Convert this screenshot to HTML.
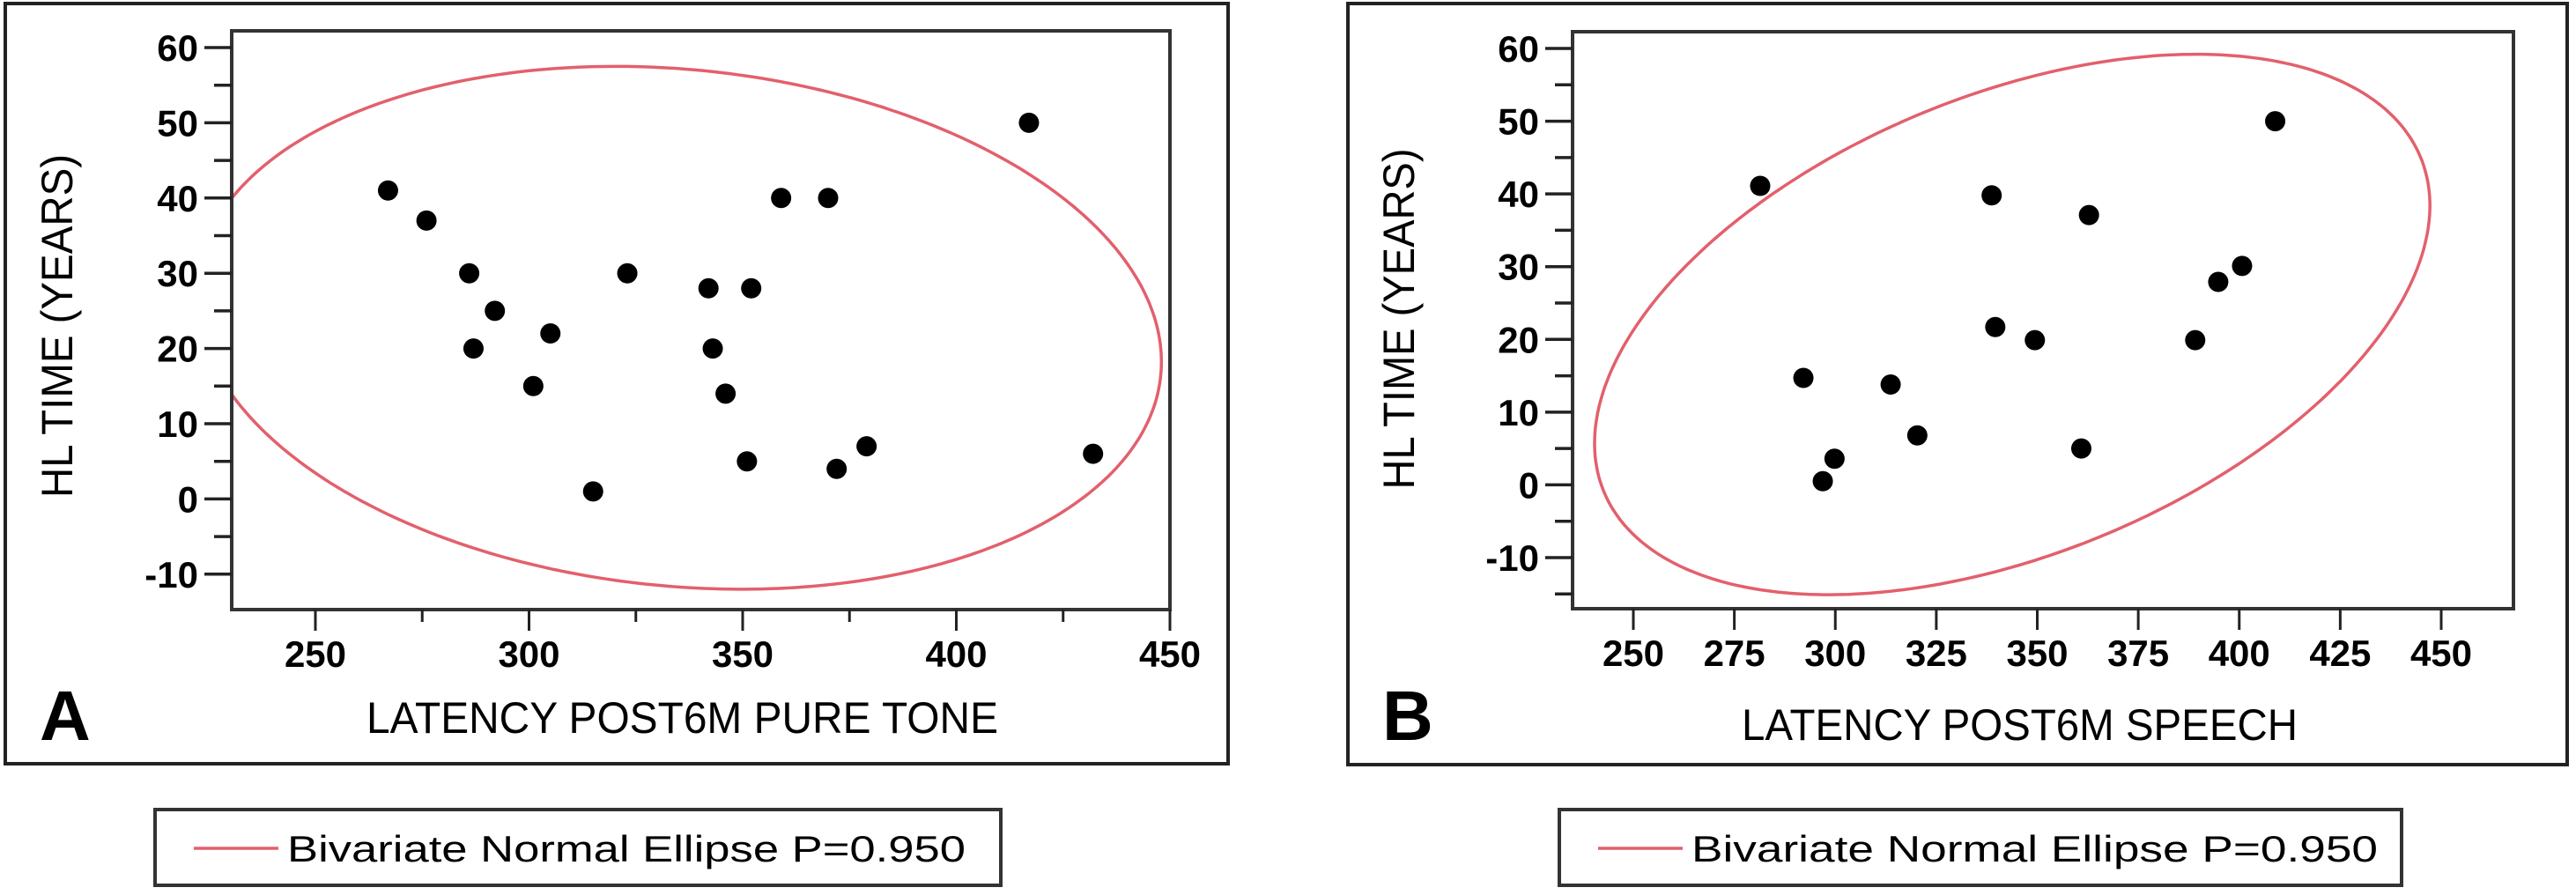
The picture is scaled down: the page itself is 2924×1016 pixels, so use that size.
<!DOCTYPE html>
<html><head><meta charset="utf-8"><style>
html,body{margin:0;padding:0;background:#fff;}
svg{display:block;font-family:"Liberation Sans",Arial,sans-serif;}
</style></head><body>
<svg id="fig" width="2924" height="1016" viewBox="0 0 2924 1016" xmlns="http://www.w3.org/2000/svg">
<rect x="0" y="0" width="2924" height="1016" fill="#fff"/>
<g id="panelA"></g>
<g id="panelB"></g>
</svg>
<script>
// Panel A data
const aLatency = [267,276,286,292,287,305,301,323,315,342,343,346,352,351,359,370,372,379,417,432];
const aYears   = [41,37,30,25,20,22,15,30,1,28,20,14,28,5,40,40,4,7,50,6];
const aEllipse = [335,22.75,113,34.75,-0.13]; // meanX, meanY, halfX, halfY, rho
// Panel B data
const bLatency = [281.4,292.1,296.9,299.8,313.7,320.3,338.7,339.6,349.4,360.9,362.8,389.1,394.8,400.7,408.9];
const bYears   = [41.1,14.7,0.5,3.6,13.8,6.8,39.8,21.7,19.9,5,37.1,19.9,27.9,30.1,50];
const bEllipse = [343.8,22.05,103.4,37.15,0.44];
const yTicks = [60,50,40,30,20,10,0,-10];
const aXTicks = [250,300,350,400,450];
const bXTicks = [250,275,300,325,350,375,400,425,450];

const NS = "http://www.w3.org/2000/svg";
function mk(parent, tag, attrs, text){
  const e = document.createElementNS(NS, tag);
  for (const k in attrs) e.setAttribute(k, attrs[k]);
  if (text !== undefined) e.textContent = text;
  parent.appendChild(e);
  return e;
}

function drawPanel(g, cfg){
  const sx = v => cfg.x0px + (v - cfg.x0v) * cfg.xk;
  const sy = v => cfg.y60px + (60 - v) * cfg.yk;
  const border = mk(g,'rect',{x:cfg.bx,y:4,width:cfg.bw,height:cfg.bh,fill:'none',stroke:'#222','stroke-width':4});
  
  
  const cid = 'clip'+cfg.id;
  const cp = mk(g,'clipPath',{id:cid});
  mk(cp,'rect',{x:cfg.fl,y:cfg.ft,width:cfg.fr-cfg.fl,height:cfg.fb-cfg.ft});
  const [mx,my,hx,hy,rho] = cfg.ell;
  let d='';
  for(let i=0;i<=360;i++){
    const t=i*Math.PI/180;
    const xv=mx+hx*Math.cos(t);
    const yv=my+hy*(rho*Math.cos(t)+Math.sqrt(1-rho*rho)*Math.sin(t));
    d+=(i?'L':'M')+sx(xv).toFixed(1)+' '+sy(yv).toFixed(1);
  }
  const el = mk(g,'path',{d:d+'Z',fill:'none',stroke:'#e2606c','stroke-width':3.5,'clip-path':'url(#'+cid+')'});
  
  
  cfg.xs.forEach((xv,i)=>{
    const c = mk(g,'ellipse',{cx:sx(xv),cy:sy(cfg.ys[i]),rx:11.5,ry:11.5,fill:'#000'});
    
    
  });
  const fr = mk(g,'rect',{x:cfg.fl,y:cfg.ft,width:cfg.fr-cfg.fl,height:cfg.fb-cfg.ft,fill:'none',stroke:'#333','stroke-width':4});
  
  
  yTicks.forEach(v=>{
    const y=sy(v);
    const tk = mk(g,'line',{x1:cfg.fl-31,x2:cfg.fl,y1:y,y2:y,stroke:'#222','stroke-width':3.5});
    
    
    const lb = mk(g,'text',{x:cfg.fl-38,y:y+15,'text-anchor':'end','font-size':42,'font-weight':'bold',fill:'#000'},String(v));
    
    
    const mv=v-5;
    if (sy(mv) < cfg.fb-4){
      const m = mk(g,'line',{x1:cfg.fl-20,x2:cfg.fl,y1:sy(mv),y2:sy(mv),stroke:'#222','stroke-width':3.5});
      
      
    }
  });
  if (sy(55) > cfg.ft){
    const m = mk(g,'line',{x1:cfg.fl-20,x2:cfg.fl,y1:sy(55),y2:sy(55),stroke:'#222','stroke-width':3.5});
    
    
  }
  cfg.xt.forEach((v,i)=>{
    const x=sx(v);
    const tk = mk(g,'line',{x1:x,x2:x,y1:cfg.fb,y2:cfg.fb+24,stroke:'#222','stroke-width':3});
    
    
    const lb = mk(g,'text',{x:x,y:cfg.fb+65,'text-anchor':'middle','font-size':42,'font-weight':'bold',fill:'#000'},String(v));
    
    
    if (cfg.minor && i<cfg.xt.length-1){
      const mxp=sx(v+cfg.minor);
      const m = mk(g,'line',{x1:mxp,x2:mxp,y1:cfg.fb,y2:cfg.fb+14,stroke:'#222','stroke-width':3});
      
      
    }
  });
  const xt = mk(g,'text',{x:cfg.xtx,y:cfg.xty,'font-size':50,fill:'#000',textLength:cfg.xtl,lengthAdjust:'spacingAndGlyphs'},cfg.xtitle);
  
  
  const yt = mk(g,'text',{x:0,y:0,'font-size':50,fill:'#000','text-anchor':'middle',textLength:cfg.ytl,lengthAdjust:'spacingAndGlyphs',transform:'translate('+cfg.ytx+','+cfg.yty+') rotate(-90)'},'HL TIME (YEARS)');
  
  
  const pl = mk(g,'text',{x:cfg.bx+39,y:840,'font-size':80,'font-weight':'bold',fill:'#000'},cfg.letter);
  
  
  const lg = mk(g,'g',{});
  
  
  mk(lg,'rect',{x:cfg.lx,y:919,width:cfg.lw,height:86,fill:'#fff',stroke:'#333','stroke-width':4});
  const ll = mk(lg,'line',{x1:cfg.lx+44,x2:cfg.lx+140,y1:963,y2:963,stroke:'#e2606c','stroke-width':3.5});
  
  
  const lt = mk(lg,'text',{x:cfg.lx+150,y:978,'font-size':42,fill:'#000',textLength:cfg.ltl,lengthAdjust:'spacingAndGlyphs'},'Bivariate Normal Ellipse P=0.950');
  
  
}

drawPanel(document.getElementById('panelA'),{
  id:'A', letter:'A', bx:6, bw:1388, bh:863,
  fl:263, fr:1328, ft:35, fb:692,
  x0v:250, x0px:358, xk:4.85, y60px:54, yk:8.54,
  xs:aLatency, ys:aYears, ell:aEllipse, xt:aXTicks, minor:25,
  xtitle:'LATENCY POST6M PURE TONE', xtx:416, xty:832, xtl:717,
  ytx:82, yty:370, ytl:390,
  lx:176, lw:960, ltl:770
});
drawPanel(document.getElementById('panelB'),{
  id:'B', letter:'B', bx:1530, bw:1384, bh:864,
  fl:1785, fr:2853, ft:36, fb:691,
  x0v:250, x0px:1854, xk:4.585, y60px:55, yk:8.257,
  xs:bLatency, ys:bYears, ell:bEllipse, xt:bXTicks, minor:0,
  xtitle:'LATENCY POST6M SPEECH', xtx:1977, xty:840, xtl:631,
  ytx:1605, yty:362, ytl:387,
  lx:1770, lw:956, ltl:779
});
</script>
</body></html>
